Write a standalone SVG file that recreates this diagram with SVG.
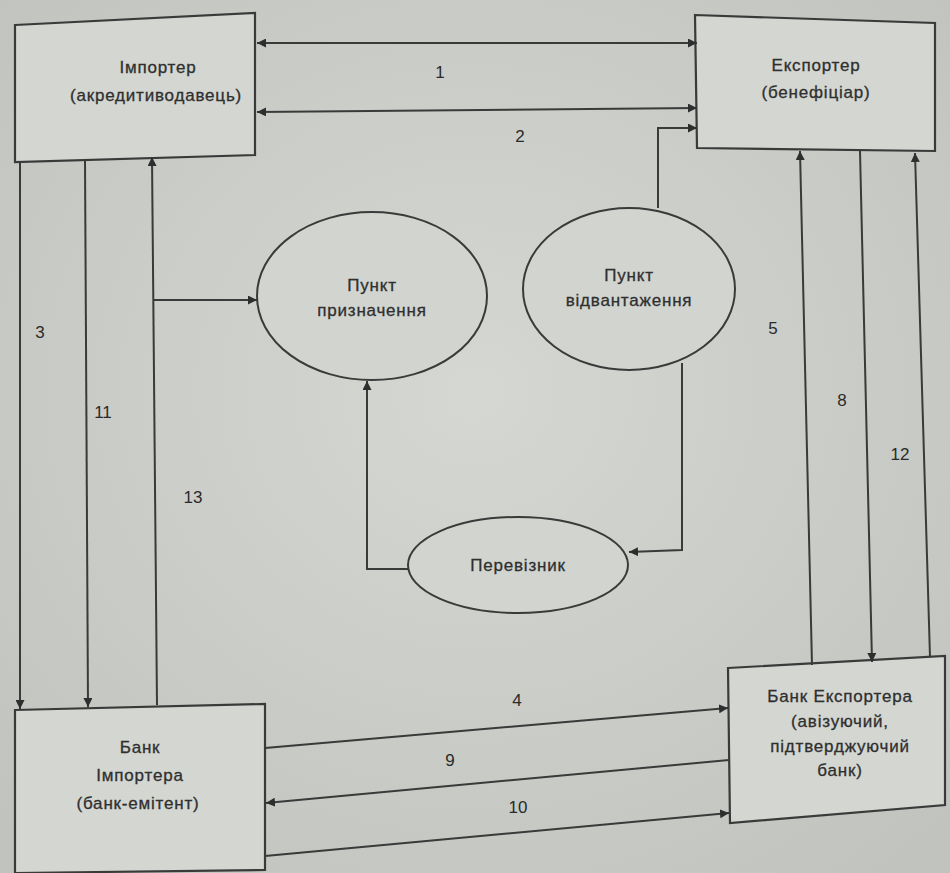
<svg xmlns="http://www.w3.org/2000/svg" width="950" height="873" viewBox="0 0 950 873">
<defs>
<radialGradient id="bg" cx="0.5" cy="0.45" r="0.7">
<stop offset="0" stop-color="#d4d7d2"/>
<stop offset="1" stop-color="#c0c3be"/>
</radialGradient>
<marker id="ah" viewBox="0 0 10 10" refX="10" refY="5" markerWidth="9" markerHeight="9" markerUnits="userSpaceOnUse" orient="auto-start-reverse">
<path d="M0,0 L10,5 L0,10 z" fill="#2e2e2e"/>
</marker>
<style>
.box{fill:#d3d6d1;stroke:#3a3a3a;stroke-width:2.2}
.ell{fill:#d1d4cf;stroke:#3a3a3a;stroke-width:2}
.ln{fill:none;stroke:#3a3a3a;stroke-width:2}
.t{font-family:"Liberation Sans",Arial,sans-serif;font-size:17px;letter-spacing:0.8px;fill:#2f2f2f;stroke:#2f2f2f;stroke-width:0.3;text-anchor:middle}
.n{font-family:"Liberation Sans",Arial,sans-serif;font-size:17px;fill:#2a2a2a;text-anchor:middle}
</style>
</defs>
<rect width="950" height="873" fill="url(#bg)"/>

<g id="importer">
<polygon class="box" points="15,25 255,13 255,155 15,162"/>
<text class="t" x="158" y="73">Імпортер</text>
<text class="t" x="156" y="101">(акредитиводавець)</text>
</g>
<g id="exporter">
<polygon class="box" points="695,15 935,23 935,151 697,148"/>
<text class="t" x="816" y="71">Експортер</text>
<text class="t" x="816" y="98">(бенефіціар)</text>
</g>
<g id="bank-importer">
<polygon class="box" points="15,710 265,704 265,870 15,873"/>
<text class="t" x="140" y="753">Банк</text>
<text class="t" x="140" y="781">Імпортера</text>
<text class="t" x="138" y="809">(банк-емітент)</text>
</g>
<g id="bank-exporter">
<polygon class="box" points="728,668 945,656 945,805 730,823"/>
<text class="t" x="840" y="702">Банк Експортера</text>
<text class="t" x="840" y="727">(авізуючий,</text>
<text class="t" x="840" y="752">підтверджуючий</text>
<text class="t" x="840" y="776">банк)</text>
</g>
<g id="punkt-pryznachennia">
<ellipse class="ell" cx="372" cy="296" rx="115" ry="84"/>
<text class="t" x="372" y="291">Пункт</text>
<text class="t" x="372" y="316">призначення</text>
</g>
<g id="punkt-vidvantazhennia">
<ellipse class="ell" cx="629" cy="289" rx="106" ry="81"/>
<text class="t" x="629" y="281">Пункт</text>
<text class="t" x="629" y="306">відвантаження</text>
</g>
<g id="pereviznyk">
<ellipse class="ell" cx="518" cy="565" rx="110" ry="48"/>
<text class="t" x="518" y="571">Перевізник</text>
</g>

<g id="connectors">
<line class="ln" x1="257" y1="43" x2="697" y2="43" marker-start="url(#ah)" marker-end="url(#ah)"/>
<line class="ln" x1="257" y1="112" x2="697" y2="108" marker-start="url(#ah)" marker-end="url(#ah)"/>
<polyline class="ln" points="658,208 658,128 697,128" marker-end="url(#ah)"/>
<line class="ln" x1="20" y1="162" x2="20" y2="709" marker-end="url(#ah)"/>
<line class="ln" x1="85" y1="160" x2="88" y2="707" marker-end="url(#ah)"/>
<line class="ln" x1="157" y1="705" x2="152" y2="157" marker-end="url(#ah)"/>
<line class="ln" x1="154" y1="300" x2="257" y2="300" marker-end="url(#ah)"/>
<polyline class="ln" points="408,569 367,569 367,381" marker-end="url(#ah)"/>
<polyline class="ln" points="682,363 682,550 629,552" marker-end="url(#ah)"/>
<line class="ln" x1="812" y1="665" x2="800" y2="151" marker-end="url(#ah)"/>
<line class="ln" x1="860" y1="151" x2="872" y2="662" marker-end="url(#ah)"/>
<line class="ln" x1="930" y1="657" x2="915" y2="153" marker-end="url(#ah)"/>
<line class="ln" x1="265" y1="748" x2="728" y2="708" marker-end="url(#ah)"/>
<line class="ln" x1="729" y1="760" x2="266" y2="803" marker-end="url(#ah)"/>
<line class="ln" x1="265" y1="856" x2="729" y2="813" marker-end="url(#ah)"/>
</g>

<g id="labels">
<text class="n" x="440" y="78">1</text>
<text class="n" x="520" y="142">2</text>
<text class="n" x="40" y="338">3</text>
<text class="n" x="517" y="706">4</text>
<text class="n" x="773" y="334">5</text>
<text class="n" x="842" y="406">8</text>
<text class="n" x="450" y="766">9</text>
<text class="n" x="518" y="813">10</text>
<text class="n" x="103" y="418">11</text>
<text class="n" x="900" y="460">12</text>
<text class="n" x="193" y="503">13</text>
</g>
</svg>
